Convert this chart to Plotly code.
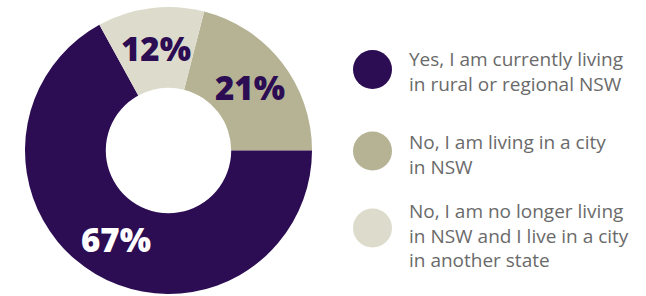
import math
import plotly.graph_objects as go

labels = ["Yes, I am currently living<br>in rural or regional NSW",
          "No, I am living in a city<br>in NSW",
          "No, I am no longer living<br>in NSW and I live in a city<br>in another state"]
values = [67, 21, 12]
pct_text = ["67%", "21%", "12%"]
colors = ["#2C0C52", "#B5B393", "#DDDCCC"]
text_colors = ["#FFFFFF", "#2C0C52", "#2C0C52"]

# clockwise drawing order of slices, starting at the khaki slice
order = [1, 0, 2]
start_angle = 14.4  # degrees clockwise from 12 o'clock
hole = 0.437

W, H = 646, 296
dom_x = [25/W, 312/W]
dom_y = [2/H, 289/H]

fig = go.Figure()
fig.add_trace(go.Pie(
    labels=[labels[i] for i in order], values=[values[i] for i in order],
    textinfo="none", sort=False, direction="clockwise", rotation=start_angle,
    hole=hole, marker=dict(colors=[colors[i] for i in order], line=dict(width=0)),
    domain=dict(x=dom_x, y=dom_y), showlegend=False, hoverinfo="skip",
))

# percentage labels at the middle angle of each slice, mid-ring
cx = (dom_x[0] + dom_x[1]) / 2
cy = (dom_y[0] + dom_y[1]) / 2
R = min((dom_x[1]-dom_x[0]) * W, (dom_y[1]-dom_y[0]) * H) / 2
r_text = R * (1 + hole) / 2
total = sum(values)
annos = []
acc = start_angle
for i in order:
    span = 360 * values[i] / total
    mid = math.radians(acc + span / 2)
    acc += span
    annos.append(dict(xref="paper", yref="paper",
                      x=cx + r_text * math.sin(mid) / W,
                      y=cy + r_text * math.cos(mid) / H,
                      xanchor="center", yanchor="middle", showarrow=False,
                      text=pct_text[i],
                      font=dict(family="Open Sans", size=33, color=text_colors[i], weight=800)))

circle_y = [69.5, 151, 228]
text_y = [71.5, 154.5, 235]
shapes = []
for i, lab in enumerate(labels):
    c = circle_y[i]
    shapes.append(dict(type="circle", xref="paper", yref="paper",
                       x0=(372.5-19.5)/W, x1=(372.5+19.5)/W,
                       y0=1-(c+19.5)/H, y1=1-(c-19.5)/H,
                       fillcolor=colors[i], line=dict(width=0)))
    annos.append(dict(xref="paper", yref="paper", x=407/W, y=1-text_y[i]/H,
                      xanchor="left", yanchor="middle", align="left",
                      showarrow=False, text=lab,
                      font=dict(family="Open Sans", size=19, color="#6a6a6a")))

fig.update_layout(width=W, height=H, margin=dict(l=0, r=0, t=0, b=0),
                  paper_bgcolor="white", plot_bgcolor="white",
                  shapes=shapes, annotations=annos)
fig.write_html("out.html", config={"displayModeBar": False},
               post_script="document.body.style.margin='0';")
